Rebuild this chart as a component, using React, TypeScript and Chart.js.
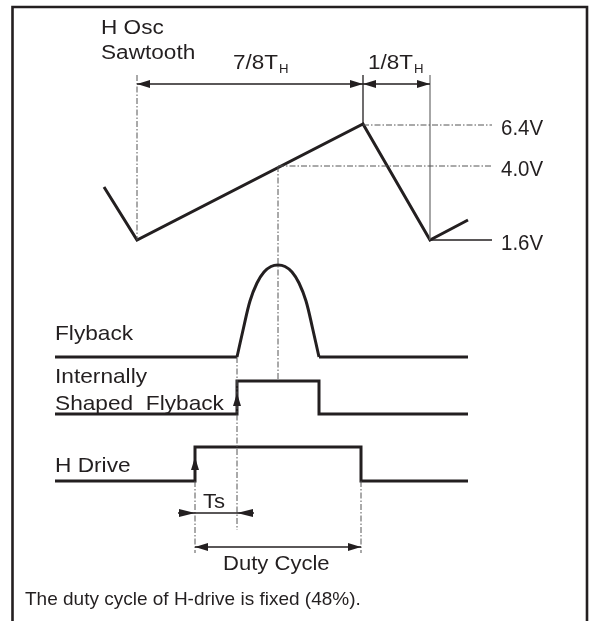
import { useEffect, useRef } from "react";
import { Chart, registerables } from "chart.js";

Chart.register(...registerables);

// Waveforms (diagram units: x to the right, y downward)
const sawX = [104, 137, 363, 430, 468];
const sawY = [187, 240, 124, 240, 220];

// Flyback: flat base, then a rounded pulse, then flat base
const flyBaseX = [55, 237, 319, 468];
const flyBaseY = [357, 357, 357, 357];
const flyPulseX = [237, 243.5, 250, 257, 264, 271, 278, 285, 292, 299, 306, 312.5, 319];
const flyPulseY = [357, 328, 301, 283, 272, 266.5, 265, 266.5, 272, 283, 301, 328, 357];

const isfX = [55, 237, 237, 319, 319, 468];
const isfY = [414, 414, 381, 381, 414, 414];

const hdX = [55, 195, 195, 361, 361, 468];
const hdY = [481, 481, 447, 447, 481, 481];

// Guide lines [x1, y1, x2, y2]
const dashGuides = [
  [137, 75, 137, 240],
  [278, 166, 278, 381],
  [237, 357, 237, 530],
  [195, 481, 195, 553],
  [361, 481, 361, 553],
  [363, 125, 492, 125],
  [278, 166, 493, 166],
];
const blackGuides = [
  [363, 75, 363, 124],
  [430, 240, 492, 240],
];
const grayGuides = [[430, 75, 430, 240]];

// Dimension arrows
const dimOut = [
  [137, 363, 84],
  [363, 430, 84],
  [195, 361, 547],
];
const dimIn = [[195, 237, 513]];
const upArrows = [
  [237, 393],
  [195, 457],
];

// Text labels
const labelText = ["H Osc", "Sawtooth", "7/8T", "1/8T", "6.4V", "4.0V", "1.6V", "Flyback", "Internally", "Shaped  Flyback", "H Drive", "Ts", "Duty Cycle", "The duty cycle of H-drive is fixed (48%)."];
const labelX = [101, 101, 233, 368, 501, 501, 501, 55, 55, 55, 55, 203, 223, 25];
const labelY = [33.5, 58.5, 69, 68.5, 135, 176, 250, 340, 383, 410, 472, 508, 570, 605];
const subText = ["H", "H"];
const subX = [279, 414];
const subY = [73, 73];

const INK = "#231f20";
const FONT = "'Liberation Sans', Arial, Helvetica, sans-serif";
const labelSize = [20, 20, 21, 21, 22, 22, 22, 21, 21, 21, 21, 21, 21, 19];
const labelSx = [1.13, 1.13, 1.07, 1.07, 0.93, 0.93, 0.93, 1.08, 1.08, 1.08, 1.08, 1.05, 1.05, 1.0];

const line = (xs: number[], ys: number[]) => xs.map((x, i) => ({ x, y: ys[i] }));

const overlay = {
  id: "overlay",
  afterDatasetsDraw(chart: any) {
    const ctx = chart.ctx as CanvasRenderingContext2D;
    const sx = chart.scales.x;
    const sy = chart.scales.y;
    const X = (v: number) => sx.getPixelForValue(v);
    const Y = (v: number) => sy.getPixelForValue(v);
    ctx.save();

    // frame
    ctx.strokeStyle = INK;
    ctx.lineWidth = 2.6;
    ctx.beginPath();
    ctx.moveTo(X(12.5), Y(621));
    ctx.lineTo(X(12.5), Y(7));
    ctx.lineTo(X(587), Y(7));
    ctx.lineTo(X(587), Y(621));
    ctx.stroke();

    const tri = (tx: number, ty: number, dir: string, len = 14, hw = 4) => {
      ctx.beginPath();
      ctx.moveTo(tx, ty);
      if (dir === "left") { ctx.lineTo(tx + len, ty - hw); ctx.lineTo(tx + len, ty + hw); }
      if (dir === "right") { ctx.lineTo(tx - len, ty - hw); ctx.lineTo(tx - len, ty + hw); }
      if (dir === "up") { ctx.lineTo(tx - hw, ty + len); ctx.lineTo(tx + hw, ty + len); }
      ctx.closePath();
      ctx.fill();
    };

    ctx.fillStyle = INK;
    ctx.strokeStyle = INK;
    ctx.lineWidth = 1.3;
    for (const [a, b, y] of dimOut) {
      ctx.beginPath();
      ctx.moveTo(X(a), Y(y));
      ctx.lineTo(X(b), Y(y));
      ctx.stroke();
      tri(X(a), Y(y), "left", 13, 4);
      tri(X(b), Y(y), "right", 13, 4);
    }
    for (const [a, b, y] of dimIn) {
      ctx.beginPath();
      ctx.moveTo(X(a) - 17, Y(y));
      ctx.lineTo(X(b) + 17, Y(y));
      ctx.stroke();
      tri(X(a), Y(y), "right", 16, 4);
      tri(X(b), Y(y), "left", 16, 4);
    }
    for (const [x, y] of upArrows) tri(X(x), Y(y), "up", 13, 4);

    // labels
    ctx.textBaseline = "alphabetic";
    ctx.textAlign = "left";
    labelText.forEach((t, i) => {
      ctx.save();
      ctx.font = `${labelSize[i]}px ${FONT}`;
      ctx.translate(X(labelX[i]), Y(labelY[i]));
      ctx.scale(labelSx[i], 1);
      ctx.fillText(t, 0, 0);
      ctx.restore();
    });
    subText.forEach((t, i) => {
      ctx.save();
      ctx.font = `12px ${FONT}`;
      ctx.translate(X(subX[i]), Y(subY[i]));
      ctx.scale(1.1, 1);
      ctx.fillText(t, 0, 0);
      ctx.restore();
    });
    ctx.restore();
  },
};

export default function App() {
  const ref = useRef<HTMLCanvasElement | null>(null);
  useEffect(() => {
    if (!ref.current) return;
    const thick = (xs: number[], ys: number[], extra: any = {}) => ({
      data: line(xs, ys),
      showLine: true,
      borderColor: INK,
      borderWidth: 3,
      pointRadius: 0,
      borderJoinStyle: "miter" as const,
      tension: 0,
      ...extra,
    });
    const guide = (g: number[], color: string, width: number, dash: number[]) => ({
      data: [{ x: g[0], y: g[1] }, { x: g[2], y: g[3] }],
      showLine: true,
      borderColor: color,
      borderWidth: width,
      borderDash: dash,
      pointRadius: 0,
    });
    const datasets: any[] = [
      ...dashGuides.map((g) => guide(g, "#555", 1, [6, 2, 1.5, 2])),
      ...blackGuides.map((g) => guide(g, INK, 1.3, [])),
      ...grayGuides.map((g) => guide(g, "#777", 1.3, [])),
      thick(sawX, sawY),
      thick(flyBaseX.slice(0, 2), flyBaseY.slice(0, 2)),
      thick(flyBaseX.slice(2), flyBaseY.slice(2)),
      thick(flyPulseX, flyPulseY, { tension: 0.35, borderJoinStyle: "round" }),
      thick(isfX, isfY),
      thick(hdX, hdY),
    ];
    const chart = new Chart(ref.current, {
      type: "scatter",
      data: { datasets },
      options: {
        responsive: false,
        animation: false,
        devicePixelRatio: 1,
        events: [],
        layout: { padding: 0 },
        plugins: { legend: { display: false }, tooltip: { enabled: false } },
        scales: {
          x: { type: "linear", min: 0, max: 595, display: false },
          y: { type: "linear", min: 0, max: 621, reverse: true, display: false },
        },
      },
      plugins: [overlay],
    });
    return () => chart.destroy();
  }, []);
  return (
    <div style={{ position: "absolute", left: 0, top: 0, width: 595, height: 621, background: "#fff" }}>
      <canvas ref={ref} width={595} height={621} style={{ display: "block" }} />
    </div>
  );
}
